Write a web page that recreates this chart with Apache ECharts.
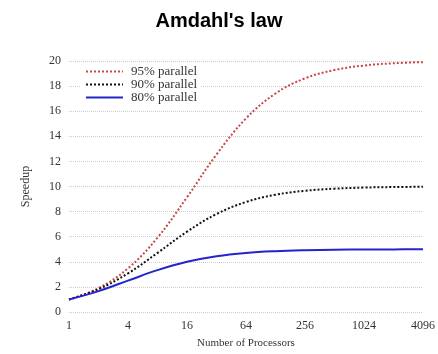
<!DOCTYPE html>
<html><head><meta charset="utf-8">
<script src="https://cdn.jsdelivr.net/npm/echarts@6/dist/echarts.min.js"></script>
<style>html,body{margin:0;padding:0;background:#fff}#c{width:438px;height:354px}</style>
</head><body><div id="c"></div>
<script>
const processors = [1, 2, 4, 8, 16, 32, 64, 128, 256, 512, 1024, 2048, 4096];
const p95 = [1, 1.905, 3.478, 5.926, 9.143, 12.55, 15.42, 17.41, 18.62, 19.28, 19.64, 19.82, 19.91];
const p90 = [1, 1.818, 3.077, 4.706, 6.4, 7.805, 8.767, 9.343, 9.66, 9.827, 9.913, 9.956, 9.978];
const p80 = [1, 1.667, 2.5, 3.333, 4.0, 4.444, 4.706, 4.848, 4.923, 4.961, 4.981, 4.99, 4.995];
const seriesNames = ['95% parallel', '90% parallel', '80% parallel'];
const yTicks = [0, 2, 4, 6, 8, 10, 12, 14, 16, 18, 20];

const pair = arr => processors.map((x, i) => [x, arr[i]]);
const chart = echarts.init(document.getElementById('c'), null, {renderer: 'canvas'});
const serif = 'Liberation Serif';
chart.setOption({
  animation: false,
  title: {text: "Amdahl's law", left: 'center', top: 6,
    textStyle: {fontFamily: 'Liberation Sans', fontWeight: 'bold', fontSize: 20, color: '#000'}},
  grid: {left: 69, right: 14, top: 61, bottom: 42},
  legend: {
    data: seriesNames, orient: 'vertical', left: 81, top: 64,
    backgroundColor: '#fff', padding: [1, 4, 1, 4], itemGap: 0,
    itemWidth: 37, itemHeight: 13,
    itemStyle: {opacity: 0},
    textStyle: {fontFamily: serif, fontSize: 13, color: '#333', padding: [0, 0, 0, 3], lineHeight: 13}
  },
  xAxis: {
    type: 'log', logBase: 2, min: 1, max: 4096, interval: 2,
    name: 'Number of Processors', nameLocation: 'middle', nameGap: 26,
    nameTextStyle: {fontFamily: serif, fontSize: 11, color: '#333'},
    axisLine: {show: false}, axisTick: {show: false}, splitLine: {show: false},
    axisLabel: {fontFamily: serif, fontSize: 12, color: '#333', margin: 8,
      formatter: v => String(Math.round(v))}
  },
  yAxis: {
    type: 'value', min: 0, max: 20, interval: 2,
    name: 'Speedup', nameLocation: 'middle', nameGap: 37, nameRotate: 90,
    nameTextStyle: {fontFamily: serif, fontSize: 12, color: '#333'},
    axisLine: {show: false}, axisTick: {show: false},
    splitLine: {show: true, lineStyle: {color: '#ccc', type: 'dotted', width: 1}},
    axisLabel: {fontFamily: serif, fontSize: 12, color: '#333', margin: 8,
      formatter: v => yTicks.includes(v) ? String(v) : ''}
  },
  series: [
    {name: seriesNames[0], type: 'line', data: pair(p95), smooth: 0.4, symbol: 'none',
     lineStyle: {color: '#c84848', type: 'dotted', width: 2}, itemStyle: {color: '#c84848'}},
    {name: seriesNames[1], type: 'line', data: pair(p90), smooth: 0.4, symbol: 'none',
     lineStyle: {color: '#111', type: 'dotted', width: 2}, itemStyle: {color: '#111'}},
    {name: seriesNames[2], type: 'line', data: pair(p80), smooth: 0.4, symbol: 'none',
     lineStyle: {color: '#2424cc', type: 'solid', width: 2}, itemStyle: {color: '#2424cc'}}
  ]
});
</script></body></html>
